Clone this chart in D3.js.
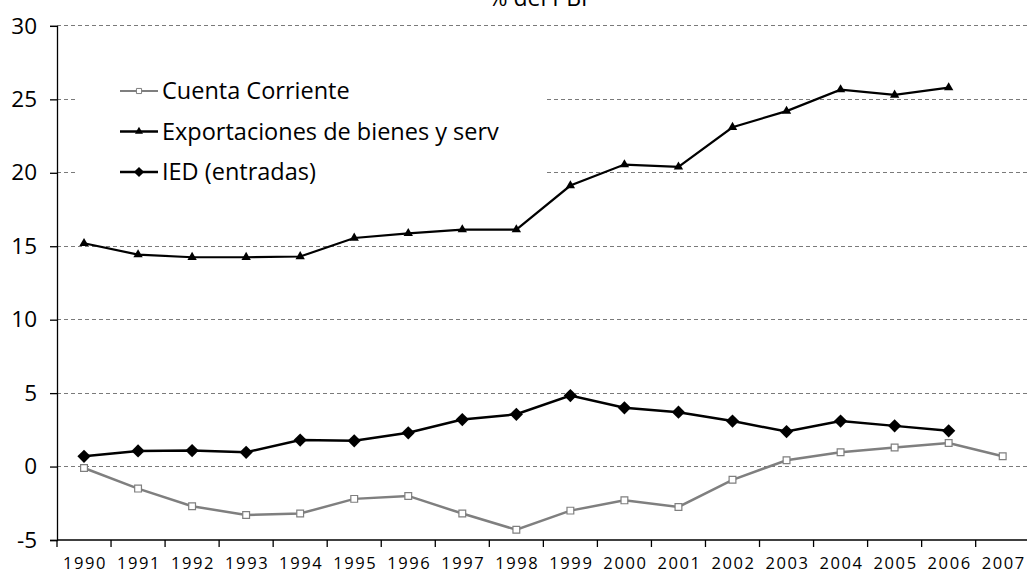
<!DOCTYPE html>
<html>
<head>
<meta charset="utf-8">
<script src="https://cdn.jsdelivr.net/npm/d3@7/dist/d3.min.js"></script>
<style>
  html, body { margin: 0; padding: 0; background: #fff; }
  svg { display: block; }
  text { font-family: "Open Sans", "DejaVu Sans", sans-serif; fill: #000; }
</style>
</head>
<body>
<svg id="chart" width="1027" height="574"></svg>
<script>
const years = ["1990","1991","1992","1993","1994","1995","1996","1997","1998","1999","2000","2001","2002","2003","2004","2005","2006","2007"];
const cuentaCorriente = [-0.1, -1.5, -2.7, -3.3, -3.2, -2.2, -2.0, -3.2, -4.3, -3.0, -2.3, -2.75, -0.9, 0.43, 0.97, 1.3, 1.6, 0.7];
const exportaciones = [15.2, 14.43, 14.25, 14.25, 14.3, 15.56, 15.88, 16.13, 16.13, 19.13, 20.56, 20.4, 23.1, 24.2, 25.66, 25.3, 25.8, null];
const ied = [0.7, 1.06, 1.09, 0.97, 1.8, 1.75, 2.3, 3.2, 3.56, 4.83, 4.0, 3.7, 3.1, 2.38, 3.1, 2.77, 2.43, null];
const yTicks = [-5, 0, 5, 10, 15, 20, 25, 30];
const gridTicks = [0, 5, 10, 15, 20, 25, 30];
const seriesNames = ["Cuenta Corriente", "Exportaciones de bienes y serv", "IED (entradas)"];
const title = "% del PBI";

const svg = d3.select("#chart");
const x = d3.scaleBand().domain(years).range([57, 57 + 18 * 54.04]).paddingInner(0).paddingOuter(0);
const y = d3.scaleLinear().domain([-5, 30]).range([540, 25.9]);
const cx = d => x(d) + x.bandwidth() / 2;

// title
svg.append("text").attr("x", 538).attr("y", 6).attr("text-anchor", "middle")
  .style("font-size", "23px").text(title);

// gridlines
svg.append("g").selectAll("line").data(gridTicks).join("line")
  .attr("x1", 57).attr("x2", 1027)
  .attr("y1", d => y(d)).attr("y2", d => y(d))
  .attr("stroke", "#7a7a7a").attr("stroke-width", 1).attr("stroke-dasharray", "4,3")
  .attr("shape-rendering", "crispEdges");

// legend background
svg.append("rect").attr("x", 77).attr("y", 62).attr("width", 468).attr("height", 145).attr("fill", "#fff");

// y axis
const yAxis = svg.append("g").attr("transform", "translate(57,0)")
  .call(d3.axisLeft(y).tickValues(yTicks).tickSize(7).tickPadding(13).tickFormat(d => String(d)));
yAxis.attr("font-family", null).attr("font-size", null);
yAxis.select(".domain").attr("stroke", "#000").attr("stroke-width", 1.3);
yAxis.selectAll(".tick line").attr("stroke", "#000").attr("stroke-width", 1.3);
yAxis.selectAll("text").style("font-size", "22.5px").attr("font-family", null);

// x axis
const xAxisG = svg.append("g").attr("transform", "translate(0,540)");
xAxisG.append("line").attr("x1", 57).attr("x2", 1027).attr("y1", 0).attr("y2", 0)
  .attr("stroke", "#000").attr("stroke-width", 1.3);
xAxisG.selectAll("line.tk").data(years.concat(["end"])).join("line").attr("class", "tk")
  .attr("x1", d => d === "end" ? x.range()[1] : x(d))
  .attr("x2", d => d === "end" ? x.range()[1] : x(d))
  .attr("y1", 0).attr("y2", 7).attr("stroke", "#000").attr("stroke-width", 1.3);
xAxisG.selectAll("text").data(years).join("text")
  .attr("x", d => cx(d) + 1).attr("y", 29).attr("text-anchor", "middle")
  .style("font-size", "16.5px").style("letter-spacing", "1.6px").text(d => d);

// lines
const lineGen = vals => d3.line().defined(d => d[1] !== null)
  .x(d => cx(d[0])).y(d => y(d[1]))(years.map((yr, i) => [yr, vals[i]]));

svg.append("path").attr("d", lineGen(cuentaCorriente)).attr("fill", "none")
  .attr("stroke", "#7f7f7f").attr("stroke-width", 2.5);
svg.append("path").attr("d", lineGen(exportaciones)).attr("fill", "none")
  .attr("stroke", "#000").attr("stroke-width", 2.2);
svg.append("path").attr("d", lineGen(ied)).attr("fill", "none")
  .attr("stroke", "#000").attr("stroke-width", 2.5);

const pts = vals => years.map((yr, i) => ({ yr, v: vals[i] })).filter(d => d.v !== null);

const sqSym = d3.symbol().type(d3.symbolSquare).size(46);
const triSym = d3.symbol().type(d3.symbolTriangle).size(38);
const diaSym = d3.symbol().type(d3.symbolSquare).size(88);

svg.append("g").selectAll("path").data(pts(exportaciones)).join("path")
  .attr("d", triSym).attr("transform", d => `translate(${cx(d.yr)},${y(d.v)})`).attr("fill", "#000");
svg.append("g").selectAll("path").data(pts(ied)).join("path")
  .attr("d", diaSym).attr("transform", d => `translate(${cx(d.yr)},${y(d.v)}) rotate(45)`).attr("fill", "#000");
svg.append("g").selectAll("path").data(pts(cuentaCorriente)).join("path")
  .attr("d", sqSym).attr("transform", d => `translate(${cx(d.yr)},${y(d.v)})`)
  .attr("fill", "#fff").attr("stroke", "#7f7f7f").attr("stroke-width", 1.2);

// legend
const legY = [91, 131.5, 172];
const legColors = ["#7f7f7f", "#000", "#000"];
const legSyms = [d3.symbol().type(d3.symbolSquare).size(26), d3.symbol().type(d3.symbolTriangle).size(28), d3.symbol().type(d3.symbolSquare).size(52)];
const leg = svg.append("g").selectAll("g").data(seriesNames).join("g")
  .attr("transform", (d, i) => `translate(0,${legY[i]})`);
leg.append("line").attr("x1", 120).attr("x2", 158).attr("y1", 0).attr("y2", 0)
  .attr("stroke", (d, i) => legColors[i]).attr("stroke-width", (d, i) => i === 0 ? 2 : 2.3);
leg.append("path").attr("d", (d, i) => legSyms[i]())
  .attr("transform", (d, i) => i === 2 ? "translate(139,0) rotate(45)" : "translate(139,0)")
  .attr("fill", (d, i) => i === 0 ? "#fff" : "#000")
  .attr("stroke", (d, i) => i === 0 ? "#7f7f7f" : "none").attr("stroke-width", 1);
leg.append("text").attr("x", 162).attr("y", 0).attr("dy", "0.35em")
  .style("font-size", "23.5px").text(d => d);
</script>
</body>
</html>
